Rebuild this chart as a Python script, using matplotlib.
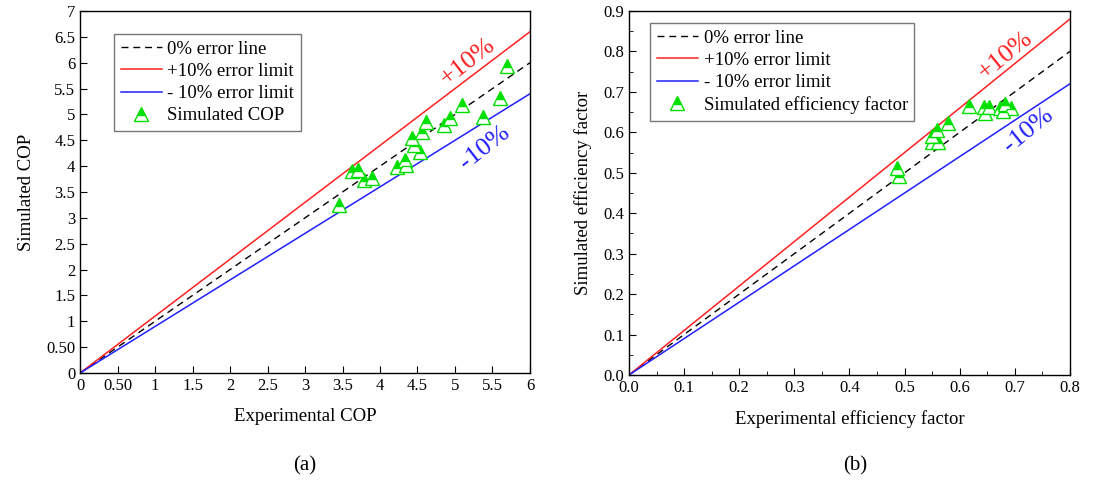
import matplotlib
matplotlib.use("Agg")
import matplotlib.pyplot as plt
from matplotlib.ticker import MultipleLocator
import numpy as np

plt.rcParams['font.family'] = ['Liberation Serif', 'DejaVu Serif']

# (a) COP data
cop_exp = [3.45, 3.63, 3.71, 3.78, 3.89, 4.23, 4.34, 4.35, 4.43, 4.45, 4.53,
           4.56, 4.62, 4.86, 4.94, 5.10, 5.38, 5.60, 5.69]
cop_sim = [3.25, 3.90, 3.92, 3.73, 3.77, 3.99, 4.12, 4.02, 4.54, 4.41, 4.28,
           4.67, 4.85, 4.80, 4.93, 5.18, 4.96, 5.31, 5.94]

# (b) efficiency factor data
eff_exp = [0.486, 0.489, 0.549, 0.558, 0.549, 0.561, 0.579, 0.617, 0.644,
           0.654, 0.646, 0.673, 0.682, 0.694, 0.679]
eff_sim = [0.513, 0.493, 0.591, 0.606, 0.577, 0.577, 0.622, 0.665, 0.662,
           0.662, 0.647, 0.660, 0.670, 0.660, 0.653]

cop_ticks = [0, 0.5, 1, 1.5, 2, 2.5, 3, 3.5, 4, 4.5, 5, 5.5, 6]
cop_xlabels = ['0', '0.50', '1', '1.5', '2', '2.5', '3', '3.5', '4', '4.5', '5', '5.5', '6']
cop_yticks = [0, 0.5, 1, 1.5, 2, 2.5, 3, 3.5, 4, 4.5, 5, 5.5, 6, 6.5, 7]
cop_ylabels = ['0', '0.50', '1', '1.5', '2', '2.5', '3', '3.5', '4', '4.5', '5', '5.5', '6', '6.5', '7']

fig = plt.figure(figsize=(10.95, 4.83), dpi=100)
ax1 = fig.add_axes([0.0731, 0.2277, 0.4109, 0.7495])
ax2 = fig.add_axes([0.5744, 0.2236, 0.4027, 0.7536])

green = '#00e000'


def draw(ax, xmax, xs, ys, label, legpos):
    x = np.array([0, xmax])
    ax.plot(x, x, 'k--', lw=1, dashes=(5, 3.5), label='0% error line')
    ax.plot(x, 1.1 * x, color='#ff2020', lw=1.1, label='+10% error limit')
    ax.plot(x, 0.9 * x, color='#2020ff', lw=1.1, label='- 10% error limit')
    ax.plot(xs, ys, ls='none', marker='^', ms=10, mec=green, mfc=green,
            fillstyle='top', markerfacecoloralt='white', mew=1.0, label=label)
    ax.tick_params(direction='in', which='both', top=False, right=False,
                   labelsize=12)
    ax.tick_params(which='major', length=5)
    ax.tick_params(which='minor', length=3)
    leg = ax.legend(loc='upper left', bbox_to_anchor=legpos, borderaxespad=0,
                    fontsize=13.5, frameon=True, fancybox=False,
                    edgecolor='#555555', handlelength=2.2, handletextpad=0.3,
                    borderpad=0.35, labelspacing=0.27)
    leg.get_frame().set_linewidth(1.0)
    for s in ax.spines.values():
        s.set_linewidth(1.0)


draw(ax1, 6, cop_exp, cop_sim, 'Simulated COP', (0.0756, 0.936))
ax1.set_xlim(0, 6)
ax1.set_ylim(0, 7)
ax1.set_xticks(cop_ticks)
ax1.set_xticklabels(cop_xlabels)
ax1.set_yticks(cop_yticks)
ax1.set_yticklabels(cop_ylabels)
ax1.set_xlabel('Experimental COP', fontsize=13.5, labelpad=10)
ax1.set_ylabel('Simulated COP', fontsize=13.5, labelpad=8)
ax1.text(5.17, 6.02, '+10%', color='#ff2020', fontsize=19, rotation=38,
         ha='center', va='center')
ax1.text(5.4, 4.35, '-10%', color='#2020ff', fontsize=19, rotation=38,
         ha='center', va='center')

draw(ax2, 0.8, eff_exp, eff_sim, 'Simulated efficiency factor', (0.048, 0.967))
ax2.set_xlim(0, 0.8)
ax2.set_ylim(0, 0.9)
ax2.xaxis.set_major_locator(MultipleLocator(0.1))
ax2.xaxis.set_minor_locator(MultipleLocator(0.05))
ax2.yaxis.set_major_locator(MultipleLocator(0.1))
ax2.yaxis.set_minor_locator(MultipleLocator(0.05))
ax2.xaxis.set_major_formatter(plt.FormatStrFormatter('%.1f'))
ax2.yaxis.set_major_formatter(plt.FormatStrFormatter('%.1f'))
ax2.set_xlabel('Experimental efficiency factor', fontsize=13.5, labelpad=10)
ax2.set_ylabel('Simulated efficiency factor', fontsize=13.5, labelpad=8)
ax2.text(0.682, 0.791, '+10%', color='#ff2020', fontsize=19, rotation=39,
         ha='center', va='center')
ax2.text(0.724, 0.606, '-10%', color='#2020ff', fontsize=19, rotation=39,
         ha='center', va='center')

fig.text(305 / 1095, 1 - 466 / 483, '(a)', fontsize=15, ha='center', va='center')
fig.text(855 / 1095, 1 - 466 / 483, '(b)', fontsize=15, ha='center', va='center')

fig.savefig('out.png', dpi=100)
